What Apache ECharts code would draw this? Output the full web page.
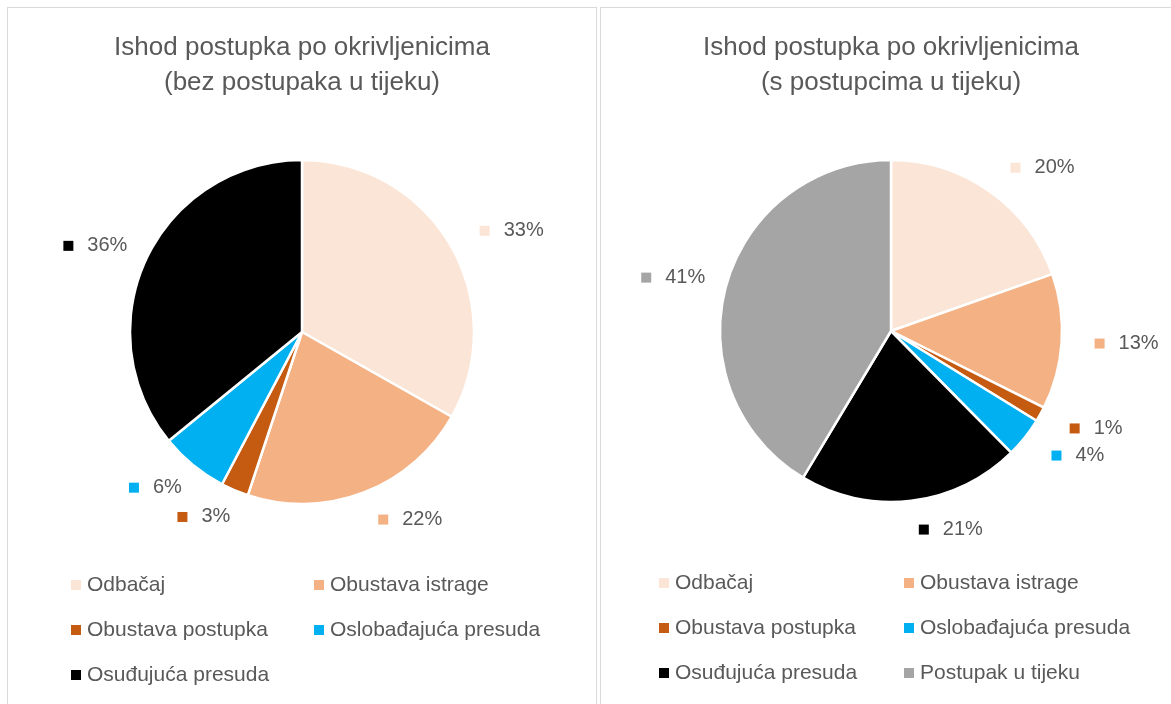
<!DOCTYPE html>
<html>
<head>
<meta charset="utf-8">
<script src="https://cdn.jsdelivr.net/npm/echarts@6/dist/echarts.min.js"></script>
<style>
  html, body { margin: 0; padding: 0; background: #fff; overflow: hidden; width: 1171px; height: 704px; }
  .panel { position: absolute; top: 7px; height: 720px; border: 1px solid #d9d9d9; box-sizing: border-box; }
  #left { left: 7px; width: 590px; }
  #right { left: 600px; width: 582px; }
  .chart { width: 100%; height: 100%; }
</style>
</head>
<body>
<div class="panel" id="left"><div class="chart" id="chartLeft"></div></div>
<div class="panel" id="right"><div class="chart" id="chartRight"></div></div>
<script>
// ---- data ----
const categories = ['Odbačaj', 'Obustava istrage', 'Obustava postupka', 'Oslobađajuća presuda', 'Osuđujuća presuda', 'Postupak u tijeku']
const valuesLeft = [33.2, 21.9, 2.6, 6.4, 35.9]
const valuesRight = [19.6, 12.8, 1.4, 3.8, 21.0, 41.4]
const titleLeft = 'Ishod postupka po okrivljenicima\n(bez postupaka u tijeku)'
const titleRight = 'Ishod postupka po okrivljenicima\n(s postupcima u tijeku)'

const colors = ['#FBE5D6', '#F4B183', '#C55A11', '#00B0F0', '#000000', '#A5A5A5']
const FONT = 'Liberation Sans, Arial, sans-serif'
const TEXT = '#595959'

// marker squares inside the data labels, one rich style per slice
const rich = { t: { fontFamily: FONT, fontSize: 20, color: TEXT, padding: [0, 0, 0, 14] } }
colors.forEach((c, i) => { rich['m' + i] = { width: 10, height: 10, backgroundColor: c } })

function buildOption(title, values, center, radius, legendLeft, legendTop) {
  const cats = categories.slice(0, values.length)
  const legendBase = {
    orient: 'vertical', top: legendTop, padding: 0,
    icon: 'rect', itemWidth: 12, itemHeight: 12, itemGap: 21,
    textStyle: { fontFamily: FONT, fontSize: 21, color: TEXT, lineHeight: 24 }
  }
  return {
    animation: false,
    title: {
      text: title, left: 'center', top: 22, padding: 0,
      textStyle: { fontFamily: FONT, fontSize: 26, fontWeight: 'normal', color: TEXT, lineHeight: 35 }
    },
    legend: [
      { ...legendBase, left: legendLeft[0], data: cats.filter((_, i) => i % 2 === 0) },
      { ...legendBase, left: legendLeft[1], data: cats.filter((_, i) => i % 2 === 1) }
    ],
    series: [{
      type: 'pie',
      center: center,
      radius: radius,
      startAngle: 90,
      clockwise: true,
      avoidLabelOverlap: false,
      itemStyle: { borderColor: '#fff', borderWidth: 2.5 },
      label: {
        position: 'outside',
        distanceToLabelLine: 4,
        formatter: p => '{m' + p.dataIndex + '|}{t|' + Math.round(p.percent) + '%}',
        rich: rich
      },
      labelLine: { show: false, length: 29, length2: 0 },
      labelLayout: p => ({ dx: p.align === 'right' ? 11 : 0 }),
      emphasis: { disabled: true },
      data: values.map((v, i) => ({ name: cats[i], value: v, itemStyle: { color: colors[i] } }))
    }]
  }
}

const leftChart = echarts.init(document.getElementById('chartLeft'))
leftChart.setOption(buildOption(titleLeft, valuesLeft, [294, 324], 172, [61, 304], 565))

const rightChart = echarts.init(document.getElementById('chartRight'))
rightChart.setOption(buildOption(titleRight, valuesRight, [290, 323], 171, [56, 301], 563))
</script>
</body>
</html>
